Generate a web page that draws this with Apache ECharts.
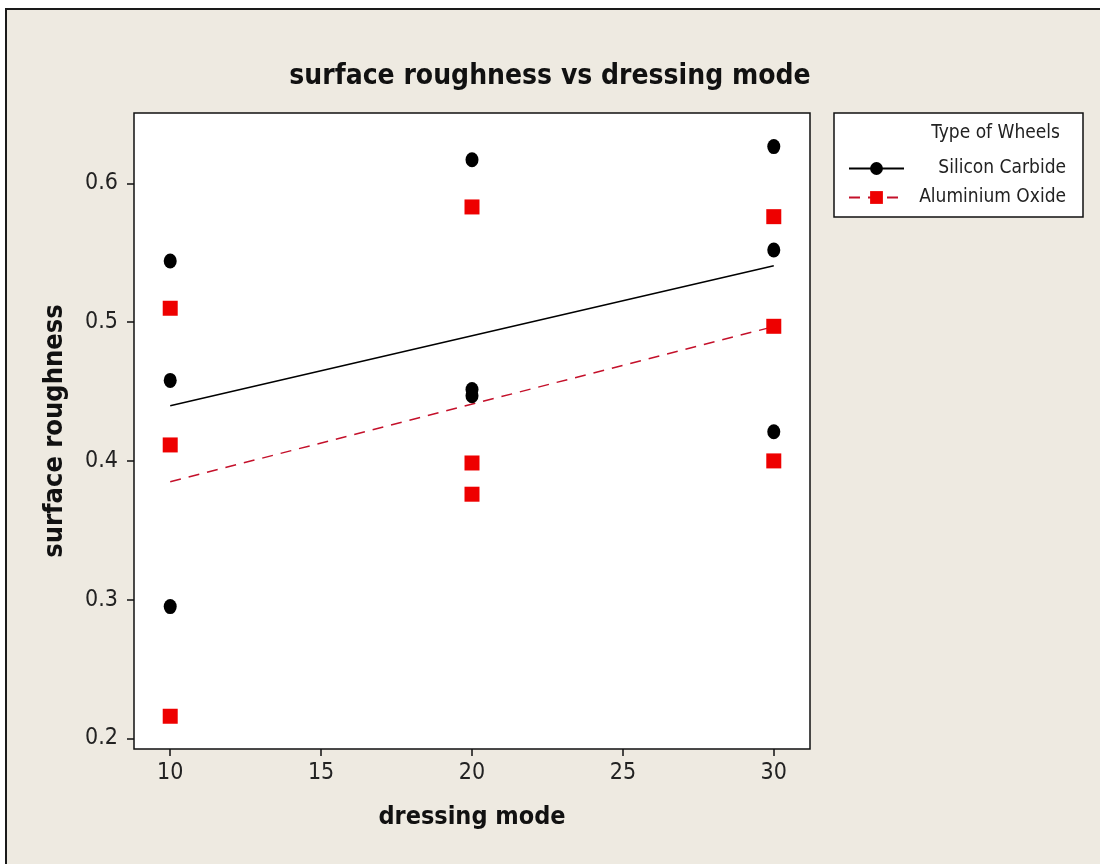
<!DOCTYPE html>
<html>
<head>
<meta charset="utf-8">
<script src="https://cdn.jsdelivr.net/npm/echarts@6/dist/echarts.min.js"></script>
<style>
html,body{margin:0;padding:0;background:#fff;}
#chart{width:1100px;height:864px;}
</style>
</head>
<body>
<div id="chart"></div>
<script>
// ---- data ----
const chartTitle = 'surface roughness vs dressing mode';
const xAxisName = 'dressing mode';
const yAxisName = 'surface roughness';
const legendTitle = 'Type of Wheels';
const seriesNames = ['Silicon Carbide', 'Aluminium Oxide'];
const dressingMode = [10, 10, 10, 20, 20, 20, 30, 30, 30];
const siliconCarbide = [0.544, 0.458, 0.295, 0.617, 0.4515, 0.447, 0.6265, 0.552, 0.421];
const aluminiumOxide = [0.510, 0.4115, 0.216, 0.583, 0.3985, 0.376, 0.576, 0.497, 0.400];
const xTicks = [10, 15, 20, 25, 30];
const yTicks = [0.2, 0.3, 0.4, 0.5, 0.6];

// least-squares fit, evaluated at the ends of the observed x range
function fitLine(xs, ys) {
  const n = xs.length;
  const mx = xs.reduce((a, b) => a + b, 0) / n;
  const my = ys.reduce((a, b) => a + b, 0) / n;
  let sxy = 0, sxx = 0;
  for (let i = 0; i < n; i++) { sxy += (xs[i] - mx) * (ys[i] - my); sxx += (xs[i] - mx) * (xs[i] - mx); }
  const b = sxy / sxx, a = my - b * mx;
  const x0 = Math.min(...xs), x1 = Math.max(...xs);
  return [[x0, a + b * x0], [x1, a + b * x1]];
}
const pairs = ys => dressingMode.map((x, i) => [x, ys[i]]);

const FONT = '"DejaVu Sans Condensed", "Liberation Sans Narrow", sans-serif';
const chart = echarts.init(document.getElementById('chart'));
chart.setOption({
  backgroundColor: '#ffffff',
  animation: false,
  graphic: [
    { type: 'rect', z: -10, shape: { x: 6, y: 9, width: 1100, height: 860 },
      style: { fill: '#EEEAE1', stroke: '#1a1a1a', lineWidth: 2 } },
    { type: 'rect', z: 1, shape: { x: 834, y: 113, width: 249, height: 104 },
      style: { fill: '#ffffff', stroke: '#111', lineWidth: 1.5 } },
    { type: 'text', z: 2, style: { text: legendTitle, x: 1060, y: 133, align: 'right', verticalAlign: 'middle',
      font: '19px ' + FONT, fill: '#222' } }
  ],
  title: {
    text: chartTitle, left: 'center', top: 58,
    textStyle: { fontFamily: FONT, fontSize: 28, fontWeight: 'bold', color: '#111' }
  },
  legend: {
    orient: 'vertical', left: 843, top: 154, itemGap: 10, itemWidth: 55, itemHeight: 16,
    data: seriesNames,
    formatter: '{t|{name}}',
    textStyle: { rich: { t: { width: 157, align: 'right', lineHeight: 20, fontFamily: FONT, fontSize: 19, color: '#222' } } }
  },
  grid: { left: 134, top: 113, width: 676, height: 636, show: true, backgroundColor: '#fff',
    borderColor: '#111', borderWidth: 1.5 },
  xAxis: {
    type: 'value', min: 8.8, max: 31.2,
    name: xAxisName, nameLocation: 'middle', nameGap: 56,
    nameTextStyle: { fontFamily: FONT, fontSize: 25, fontWeight: 'bold', color: '#111' },
    axisLine: { show: false },
    axisTick: { show: true, customValues: xTicks, length: 7, lineStyle: { color: '#111', width: 1.5 } },
    axisLabel: { customValues: xTicks, fontFamily: FONT, fontSize: 23, color: '#222', margin: 13 },
    splitLine: { show: false }
  },
  yAxis: {
    type: 'value', min: 0.1924, max: 0.6507,
    name: yAxisName, nameLocation: 'middle', nameGap: 66, nameRotate: 90,
    nameTextStyle: { fontFamily: FONT, fontSize: 27, fontWeight: 'bold', color: '#111' },
    axisLine: { show: false },
    axisTick: { show: true, customValues: yTicks, length: 7, lineStyle: { color: '#111', width: 1.5 } },
    axisLabel: { customValues: yTicks, fontFamily: FONT, fontSize: 23, color: '#222', margin: 16,
      formatter: v => String(Math.round(v * 10) / 10) },
    splitLine: { show: false }
  },
  series: [
    { name: seriesNames[0], type: 'line', data: fitLine(dressingMode, siliconCarbide),
      showSymbol: false, symbol: 'circle', symbolSize: 14, z: 3,
      itemStyle: { color: '#000' }, lineStyle: { color: '#000', width: 1.5 } },
    { name: seriesNames[1], type: 'line', data: fitLine(dressingMode, aluminiumOxide),
      showSymbol: false, symbol: 'rect', symbolSize: 14, z: 3,
      itemStyle: { color: '#ee0000' }, lineStyle: { color: '#c4102a', width: 1.5, type: [11, 8] } },
    { name: seriesNames[0] + ' obs', type: 'scatter', data: pairs(siliconCarbide),
      symbol: 'circle', symbolSize: [13, 15], z: 4, itemStyle: { color: '#000', opacity: 1 } },
    { name: seriesNames[1] + ' obs', type: 'scatter', data: pairs(aluminiumOxide),
      symbol: 'rect', symbolSize: 15, z: 4, itemStyle: { color: '#ee0000', opacity: 1 } }
  ]
});
</script>
</body>
</html>
